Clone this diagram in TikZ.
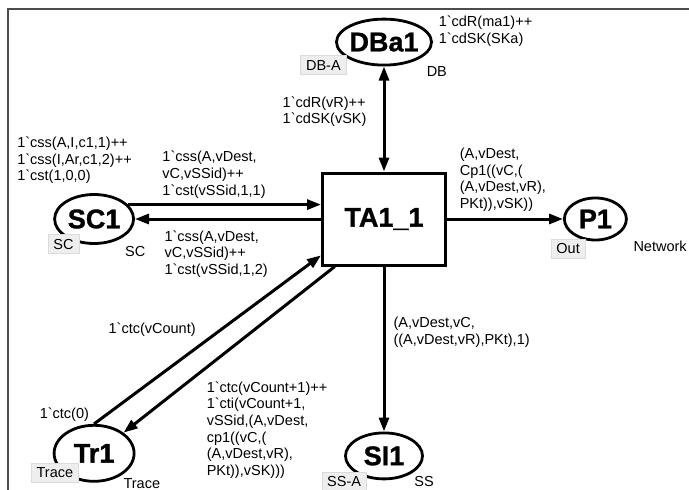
\documentclass[tikz,border=0pt]{standalone}
\usepackage{fontspec}
\setmainfont{Liberation Sans}[Ligatures=TeXOff]
\newfontfamily\heavyfont{Liberation Sans Bold}[FakeBold=1.2]
\usetikzlibrary{arrows.meta,positioning,shapes.geometric}

\begin{document}
\begin{tikzpicture}[
  >={Triangle[length=14pt,width=10pt]},
  place/.style={draw, ellipse, line width=2.8pt, inner sep=-6pt, font=\fontsize{27}{30}\selectfont\heavyfont},
  trans/.style={draw, line width=3pt, minimum width=123pt, minimum height=92pt, font=\fontsize{27}{30}\selectfont\heavyfont},
  arcline/.style={->, line width=3pt},
  tag/.style={fill=gray!13, draw=gray!28, inner xsep=5.5pt, inner ysep=0pt, minimum height=19pt, font=\fontsize{14.5}{16.7}\selectfont},
  lbl/.style={inner sep=1pt, font=\fontsize{14.5}{16.7}\selectfont},
  inscr/.style={align=left, inner sep=2pt, font=\fontsize{14.5}{16.7}\selectfont}
]
\useasboundingbox (0,0) rectangle (689pt,-490pt);
\draw[line width=1.5pt, black!70] (8pt,-490pt) |- (689pt,-9pt);

\node[trans] (t) at (384pt,-219pt) {TA1\_1};
\node[place, minimum width=95pt, minimum height=46pt, above=105pt of t] (db) {DBa1};
\node[place, minimum width=79pt, minimum height=49pt, left=186pt of t] (sc) {SC1};
\node[place, minimum width=62pt, minimum height=42pt, right=116pt of t] (p) {P1};
\node[place, minimum width=77pt, minimum height=46pt, below=165pt of t] (si) {SI1};
\node[place, minimum width=80pt, minimum height=56pt, below=179pt of sc] (tr) {Tr1};

% colour set tags
\node[tag, below left=-4pt and 3pt of db.south west] (dbtag) {DB-A};
\node[tag, below left=-3pt and -14pt of sc.south west] (sctag) {SC};
\node[tag, below left=4pt and -13pt of p.south west] (ptag) {Out};
\node[tag, below left=-11pt and -14pt of tr.south west] (trtag) {Trace};
\node[tag, below left=-1pt and -11pt of si.south west] (sitag) {SS-A};

% place types
\node[lbl, below right=6pt and 7pt of db.south east] (dbtype) {DB};
\node[lbl, below right=8pt and 1pt of sc.south east] (sctype) {SC};
\node[lbl, below right=5pt and 14pt of p.south east] (ptype) {Network};
\node[lbl, below right=3pt and -1pt of tr.south east] (trtype) {Trace};
\node[lbl, below right=2pt and 1pt of si.south east] (sitype) {SS};

% initial markings
\node[inscr, below right=-11pt and 18pt of db.north east] (dbinit) {1`cdR(ma1)++\\1`cdSK(SKa)};
\node[inscr, above right=7pt and -79pt of sc.north] (scinit) {1`css(A,I,c1,1)++\\1`css(I,Ar,c1,2)++\\1`cst(1,0,0)};
\node[inscr, above left=0pt and 3pt of tr.north] (trinit) {1`ctc(0)};

% arcs
\draw[arcline] (sc.23) -- (sc.23 -| t.west)
  node[inscr, pos=0.16, above right=3pt and 0pt] {1`css(A,vDest,\\vC,vSSid)++\\1`cst(vSSid,1,1)};
\draw[arcline] (t.west) -- (sc.east)
  node[inscr, pos=0.86, below right=8pt and 0pt] {1`css(A,vDest,\\vC,vSSid)++\\1`cst(vSSid,1,2)};
\draw[arcline] (t) -- (p)
  node[inscr, pos=0.08, above right=4pt and 0pt] {(A,vDest,\\Cp1((vC,(\\(A,vDest,vR),\\PKt)),vSK))};
\draw[arcline, <->] (t) -- (db)
  node[inscr, pos=0.57, left=14pt] {1`cdR(vR)++\\1`cdSK(vSK)};
\draw[arcline] (t) -- (si)
  node[inscr, pos=0.4, right=6pt] {(A,vDest,vC,\\((A,vDest,vR),PKt),1)};
\draw[arcline] (tr.north) -- (t.210)
  node[inscr, pos=0.56, left=22pt] {1`ctc(vCount)};
\draw[arcline] (t.224) -- (tr.35)
  node[inscr, pos=0.67, below right, xshift=10pt] {1`ctc(vCount+1)++\\1`cti(vCount+1,\\vSSid,(A,vDest,\\cp1((vC,(\\(A,vDest,vR),\\PKt)),vSK)))};
\end{tikzpicture}
\end{document}
